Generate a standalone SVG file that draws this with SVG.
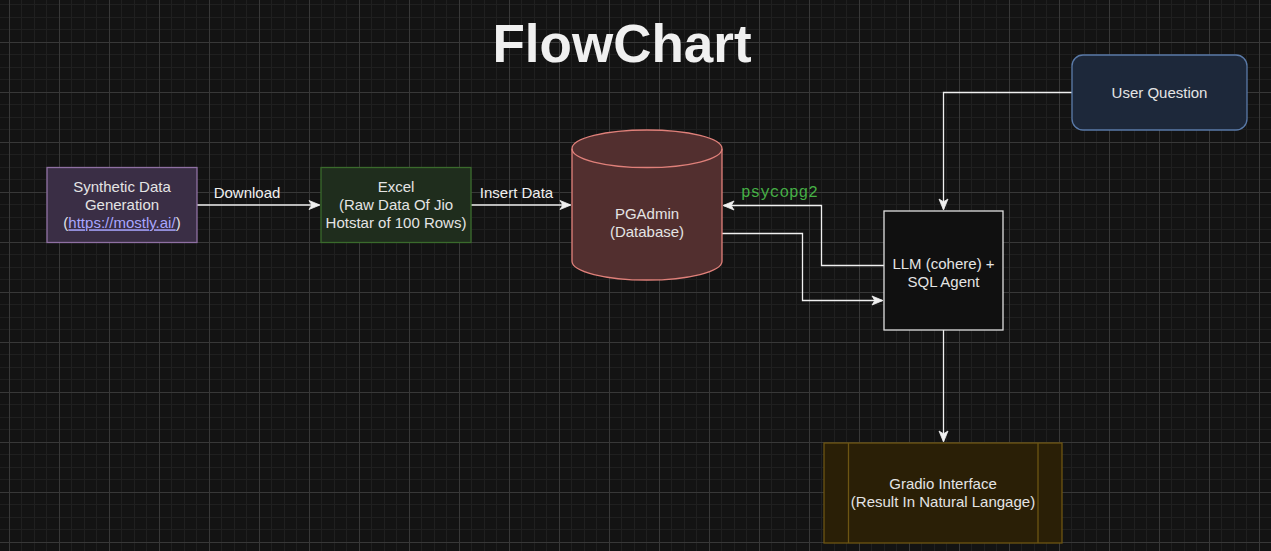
<svg xmlns="http://www.w3.org/2000/svg" width="1271" height="551" viewBox="0 0 1271 551">
  <style>
    .t { font-family: "Liberation Sans", Arial, sans-serif; font-size: 15px; fill: #e4e4e4; text-anchor: middle; }
    .lbl { font-family: "Liberation Sans", Arial, sans-serif; font-size: 15px; fill: #f0f0f0; text-anchor: middle; }
    .edge { fill: none; stroke: #f0f0f0; stroke-width: 1.3; }
    .title { font-family: "Liberation Sans", Arial, sans-serif; font-size: 53px; font-weight: bold; fill: #f0f0f0; text-anchor: middle; }
    .mono { font-family: "Liberation Mono", "DejaVu Sans Mono", monospace; font-size: 16px; fill: #46b046; }
    .link { fill: #a9a6ff; text-decoration: underline; }
  </style>
  <defs>
    <pattern id="grid" patternUnits="userSpaceOnUse" x="9" y="42" width="50" height="50">
      <rect width="50" height="50" fill="#131313"/>
      <rect x="12" y="0" width="1" height="50" fill="#1f1f1f"/>
      <rect x="25" y="0" width="1" height="50" fill="#1f1f1f"/>
      <rect x="37" y="0" width="1" height="50" fill="#1f1f1f"/>
      <rect x="0" y="12" width="50" height="1" fill="#1f1f1f"/>
      <rect x="0" y="25" width="50" height="1" fill="#1f1f1f"/>
      <rect x="0" y="37" width="50" height="1" fill="#1f1f1f"/>
      <rect x="0" y="0" width="1" height="50" fill="#383838"/>
      <rect x="0" y="0" width="50" height="1" fill="#383838"/>
    </pattern>
    <marker id="arr" markerUnits="userSpaceOnUse" markerWidth="12" markerHeight="10" refX="10" refY="4.5" orient="auto" overflow="visible">
      <path d="M0,0 L11,4.5 L0,9 L2.8,4.5 Z" fill="#f0f0f0" stroke="#f0f0f0" stroke-width="0.8" stroke-linejoin="miter"/>
    </marker>
  </defs>

  <rect width="1271" height="551" fill="url(#grid)"/>

  <text class="title" x="622" y="62">FlowChart</text>

  <g id="connectors">
    <path class="edge" d="M197,205 H319" marker-end="url(#arr)"/>
    <text class="lbl" x="247" y="197.5">Download</text>
    <path class="edge" d="M471,205 H570" marker-end="url(#arr)"/>
    <text class="lbl" x="516.5" y="197.5">Insert Data</text>
    <path class="edge" d="M884,265.5 H821.5 V205.5 H724" marker-end="url(#arr)"/>
    <text class="mono" x="741" y="197">psycopg2</text>
    <path class="edge" d="M722,233.5 H802.5 V300.5 H882" marker-end="url(#arr)"/>
    <path class="edge" d="M1072,92.5 H943.5 V209" marker-end="url(#arr)"/>
    <path class="edge" d="M943.5,330 V441" marker-end="url(#arr)"/>
  </g>

  <g id="synthetic">
    <rect x="47" y="167.5" width="150" height="75" fill="#3a2e45" stroke="#8f70a3" stroke-width="1.3"/>
    <text class="t" x="122" y="192.3">Synthetic Data</text>
    <text class="t" x="122" y="210.3">Generation</text>
    <text class="t" x="122" y="228.3">(<tspan class="link">https://mostly.ai/</tspan>)</text>
  </g>

  <g id="excel">
    <rect x="321" y="167.5" width="150" height="75" fill="#1f2d1d" stroke="#3a6a2c" stroke-width="1.3"/>
    <text class="t" x="396" y="192.3">Excel</text>
    <text class="t" x="396" y="210.3">(Raw Data Of Jio</text>
    <text class="t" x="396" y="228.3">Hotstar of 100 Rows)</text>
  </g>

  <g id="pgadmin">
    <path d="M572,148.75 A75,18.75 0 0 1 722,148.75 V261.25 A75,18.75 0 0 1 572,261.25 Z" fill="#522f2f" stroke="#e0807a" stroke-width="1.3"/>
    <path d="M572,148.75 A75,18.75 0 0 0 722,148.75" fill="none" stroke="#e0807a" stroke-width="1.3"/>
    <text class="t" x="647" y="218.5">PGAdmin</text>
    <text class="t" x="647" y="236.5">(Database)</text>
  </g>

  <g id="llm">
    <rect x="884" y="211" width="119" height="119" fill="#101010" stroke="#e0e0e0" stroke-width="1.3"/>
    <text class="t" x="943.5" y="268.5">LLM (cohere) +</text>
    <text class="t" x="943.5" y="286.5">SQL Agent</text>
  </g>

  <g id="user-question">
    <rect x="1072" y="55" width="175" height="75" rx="11" ry="11" fill="#1d283a" stroke="#5a7aa8" stroke-width="1.3"/>
    <text class="t" x="1159.5" y="98">User Question</text>
  </g>

  <g id="gradio">
    <rect x="824" y="443" width="238" height="100" fill="#2a1f06" stroke="#6d5512" stroke-width="1.3"/>
    <line x1="848.5" y1="443" x2="848.5" y2="543" stroke="#6d5512" stroke-width="1.3"/>
    <line x1="1038" y1="443" x2="1038" y2="543" stroke="#6d5512" stroke-width="1.3"/>
    <text class="t" x="943" y="488.5">Gradio Interface</text>
    <text class="t" x="943" y="506.5">(Result In Natural Langage)</text>
  </g>
</svg>
